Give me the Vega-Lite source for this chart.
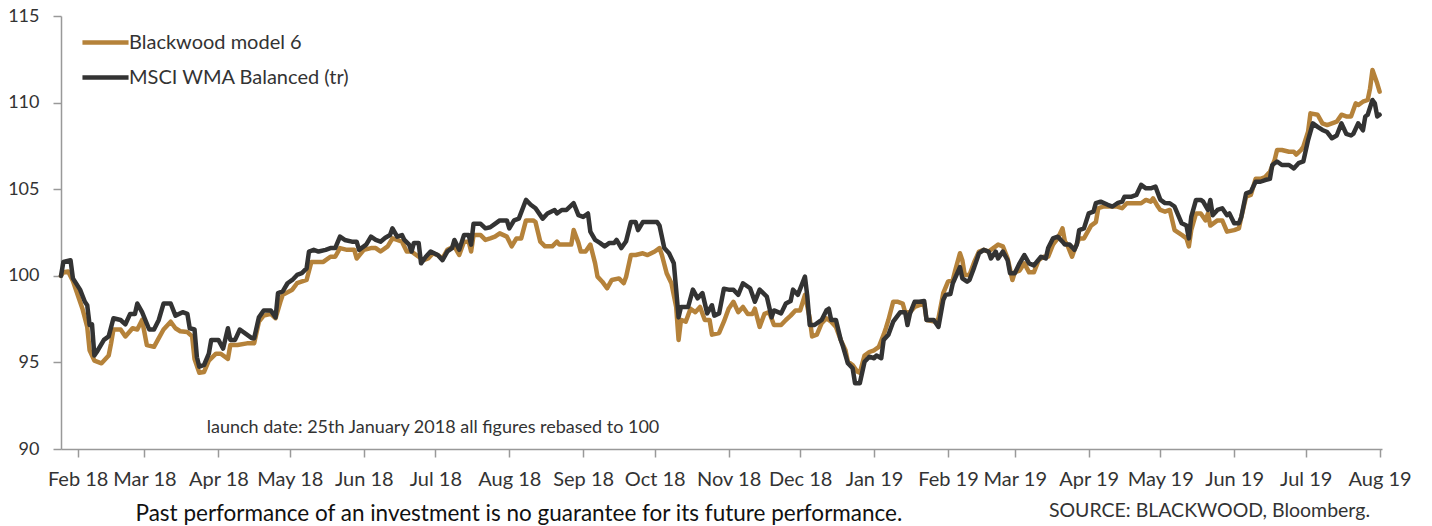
{
  "$schema": "https://vega.github.io/schema/vega-lite/v6.json",
  "width": 1321,
  "height": 433,
  "autosize": {"type": "none"},
  "padding": {"left": 61, "top": 16, "right": 50, "bottom": 77},
  "background": "white",
  "config": {
    "view": {"stroke": null},
    "font": "Lato",
    "axis": {"grid": false, "domainColor": "#999999", "domainWidth": 1.5, "tickColor": "#999999", "tickWidth": 1.5, "tickSize": 8, "labelFont": "Lato", "labelFontSize": 18, "labelColor": "#333333", "labelPadding": 13},
    "title": {"font": "Lato", "fontSize": 19.5, "fontWeight": "normal", "color": "#333333"}
  },
  "title": {"text": "SOURCE: BLACKWOOD, Bloomberg.", "orient": "bottom", "anchor": "end", "frame": "group", "offset": 0, "dy": -23, "dx": -12},
  "datasets": {
    "series": [
      {"d":"2018-01-25","s":"Blackwood model 6","v":100.0},
      {"d":"2018-01-26","s":"Blackwood model 6","v":100.2},
      {"d":"2018-01-28","s":"Blackwood model 6","v":100.25},
      {"d":"2018-01-30","s":"Blackwood model 6","v":99.7},
      {"d":"2018-02-03","s":"Blackwood model 6","v":98.1},
      {"d":"2018-02-05","s":"Blackwood model 6","v":97.05},
      {"d":"2018-02-06","s":"Blackwood model 6","v":95.7},
      {"d":"2018-02-08","s":"Blackwood model 6","v":95.1},
      {"d":"2018-02-11","s":"Blackwood model 6","v":94.95},
      {"d":"2018-02-14","s":"Blackwood model 6","v":95.4},
      {"d":"2018-02-15","s":"Blackwood model 6","v":96.1},
      {"d":"2018-02-16","s":"Blackwood model 6","v":96.9},
      {"d":"2018-02-19","s":"Blackwood model 6","v":96.9},
      {"d":"2018-02-21","s":"Blackwood model 6","v":96.5},
      {"d":"2018-02-24","s":"Blackwood model 6","v":96.97},
      {"d":"2018-02-26","s":"Blackwood model 6","v":96.9},
      {"d":"2018-02-28","s":"Blackwood model 6","v":97.45},
      {"d":"2018-03-02","s":"Blackwood model 6","v":96.0},
      {"d":"2018-03-05","s":"Blackwood model 6","v":95.9},
      {"d":"2018-03-07","s":"Blackwood model 6","v":96.4},
      {"d":"2018-03-09","s":"Blackwood model 6","v":96.9},
      {"d":"2018-03-12","s":"Blackwood model 6","v":97.35},
      {"d":"2018-03-14","s":"Blackwood model 6","v":96.97},
      {"d":"2018-03-16","s":"Blackwood model 6","v":96.8},
      {"d":"2018-03-19","s":"Blackwood model 6","v":96.75},
      {"d":"2018-03-21","s":"Blackwood model 6","v":96.5},
      {"d":"2018-03-22","s":"Blackwood model 6","v":95.2},
      {"d":"2018-03-24","s":"Blackwood model 6","v":94.4},
      {"d":"2018-03-26","s":"Blackwood model 6","v":94.45},
      {"d":"2018-03-28","s":"Blackwood model 6","v":95.1},
      {"d":"2018-03-31","s":"Blackwood model 6","v":95.5},
      {"d":"2018-04-02","s":"Blackwood model 6","v":95.5},
      {"d":"2018-04-05","s":"Blackwood model 6","v":95.2},
      {"d":"2018-04-06","s":"Blackwood model 6","v":96.0},
      {"d":"2018-04-09","s":"Blackwood model 6","v":96.0},
      {"d":"2018-04-13","s":"Blackwood model 6","v":96.1},
      {"d":"2018-04-16","s":"Blackwood model 6","v":96.1},
      {"d":"2018-04-18","s":"Blackwood model 6","v":97.35},
      {"d":"2018-04-20","s":"Blackwood model 6","v":97.7},
      {"d":"2018-04-23","s":"Blackwood model 6","v":97.8},
      {"d":"2018-04-25","s":"Blackwood model 6","v":97.55},
      {"d":"2018-04-27","s":"Blackwood model 6","v":98.5},
      {"d":"2018-04-28","s":"Blackwood model 6","v":98.9},
      {"d":"2018-05-02","s":"Blackwood model 6","v":99.2},
      {"d":"2018-05-04","s":"Blackwood model 6","v":99.57},
      {"d":"2018-05-08","s":"Blackwood model 6","v":99.76},
      {"d":"2018-05-10","s":"Blackwood model 6","v":100.8},
      {"d":"2018-05-13","s":"Blackwood model 6","v":100.8},
      {"d":"2018-05-15","s":"Blackwood model 6","v":100.8},
      {"d":"2018-05-18","s":"Blackwood model 6","v":101.1},
      {"d":"2018-05-20","s":"Blackwood model 6","v":101.1},
      {"d":"2018-05-22","s":"Blackwood model 6","v":101.6},
      {"d":"2018-05-25","s":"Blackwood model 6","v":101.5},
      {"d":"2018-05-28","s":"Blackwood model 6","v":101.5},
      {"d":"2018-05-29","s":"Blackwood model 6","v":101.0},
      {"d":"2018-06-01","s":"Blackwood model 6","v":101.5},
      {"d":"2018-06-04","s":"Blackwood model 6","v":101.6},
      {"d":"2018-06-06","s":"Blackwood model 6","v":101.6},
      {"d":"2018-06-08","s":"Blackwood model 6","v":101.4},
      {"d":"2018-06-11","s":"Blackwood model 6","v":101.7},
      {"d":"2018-06-13","s":"Blackwood model 6","v":102.16},
      {"d":"2018-06-15","s":"Blackwood model 6","v":102.07},
      {"d":"2018-06-17","s":"Blackwood model 6","v":101.97},
      {"d":"2018-06-19","s":"Blackwood model 6","v":101.4},
      {"d":"2018-06-21","s":"Blackwood model 6","v":101.4},
      {"d":"2018-06-24","s":"Blackwood model 6","v":101.1},
      {"d":"2018-06-26","s":"Blackwood model 6","v":100.9},
      {"d":"2018-06-28","s":"Blackwood model 6","v":101.0},
      {"d":"2018-06-30","s":"Blackwood model 6","v":101.3},
      {"d":"2018-07-02","s":"Blackwood model 6","v":101.2},
      {"d":"2018-07-04","s":"Blackwood model 6","v":101.0},
      {"d":"2018-07-06","s":"Blackwood model 6","v":101.5},
      {"d":"2018-07-09","s":"Blackwood model 6","v":101.7},
      {"d":"2018-07-11","s":"Blackwood model 6","v":101.2},
      {"d":"2018-07-13","s":"Blackwood model 6","v":101.97},
      {"d":"2018-07-15","s":"Blackwood model 6","v":101.97},
      {"d":"2018-07-16","s":"Blackwood model 6","v":101.4},
      {"d":"2018-07-17","s":"Blackwood model 6","v":102.35},
      {"d":"2018-07-20","s":"Blackwood model 6","v":102.35},
      {"d":"2018-07-22","s":"Blackwood model 6","v":102.07},
      {"d":"2018-07-24","s":"Blackwood model 6","v":102.16},
      {"d":"2018-07-26","s":"Blackwood model 6","v":102.26},
      {"d":"2018-07-28","s":"Blackwood model 6","v":102.45},
      {"d":"2018-07-31","s":"Blackwood model 6","v":102.26},
      {"d":"2018-08-02","s":"Blackwood model 6","v":101.7},
      {"d":"2018-08-04","s":"Blackwood model 6","v":102.16},
      {"d":"2018-08-06","s":"Blackwood model 6","v":102.16},
      {"d":"2018-08-08","s":"Blackwood model 6","v":103.2},
      {"d":"2018-08-11","s":"Blackwood model 6","v":103.2},
      {"d":"2018-08-12","s":"Blackwood model 6","v":103.1},
      {"d":"2018-08-14","s":"Blackwood model 6","v":101.97},
      {"d":"2018-08-16","s":"Blackwood model 6","v":101.7},
      {"d":"2018-08-19","s":"Blackwood model 6","v":101.7},
      {"d":"2018-08-21","s":"Blackwood model 6","v":101.97},
      {"d":"2018-08-22","s":"Blackwood model 6","v":101.8},
      {"d":"2018-08-25","s":"Blackwood model 6","v":101.8},
      {"d":"2018-08-27","s":"Blackwood model 6","v":101.8},
      {"d":"2018-08-28","s":"Blackwood model 6","v":102.64},
      {"d":"2018-08-30","s":"Blackwood model 6","v":101.9},
      {"d":"2018-08-31","s":"Blackwood model 6","v":101.4},
      {"d":"2018-09-02","s":"Blackwood model 6","v":101.4},
      {"d":"2018-09-04","s":"Blackwood model 6","v":101.8},
      {"d":"2018-09-06","s":"Blackwood model 6","v":100.72},
      {"d":"2018-09-07","s":"Blackwood model 6","v":99.95},
      {"d":"2018-09-09","s":"Blackwood model 6","v":99.66},
      {"d":"2018-09-11","s":"Blackwood model 6","v":99.28},
      {"d":"2018-09-13","s":"Blackwood model 6","v":99.76},
      {"d":"2018-09-16","s":"Blackwood model 6","v":99.85},
      {"d":"2018-09-18","s":"Blackwood model 6","v":99.57},
      {"d":"2018-09-19","s":"Blackwood model 6","v":99.95},
      {"d":"2018-09-21","s":"Blackwood model 6","v":101.2},
      {"d":"2018-09-23","s":"Blackwood model 6","v":101.2},
      {"d":"2018-09-26","s":"Blackwood model 6","v":101.3},
      {"d":"2018-09-28","s":"Blackwood model 6","v":101.2},
      {"d":"2018-10-01","s":"Blackwood model 6","v":101.4},
      {"d":"2018-10-03","s":"Blackwood model 6","v":101.6},
      {"d":"2018-10-04","s":"Blackwood model 6","v":101.2},
      {"d":"2018-10-06","s":"Blackwood model 6","v":100.15},
      {"d":"2018-10-08","s":"Blackwood model 6","v":99.57},
      {"d":"2018-10-10","s":"Blackwood model 6","v":98.2},
      {"d":"2018-10-11","s":"Blackwood model 6","v":96.3},
      {"d":"2018-10-12","s":"Blackwood model 6","v":97.45},
      {"d":"2018-10-14","s":"Blackwood model 6","v":97.35},
      {"d":"2018-10-16","s":"Blackwood model 6","v":98.1},
      {"d":"2018-10-18","s":"Blackwood model 6","v":97.9},
      {"d":"2018-10-20","s":"Blackwood model 6","v":98.2},
      {"d":"2018-10-22","s":"Blackwood model 6","v":97.45},
      {"d":"2018-10-24","s":"Blackwood model 6","v":97.45},
      {"d":"2018-10-25","s":"Blackwood model 6","v":96.6},
      {"d":"2018-10-28","s":"Blackwood model 6","v":96.7},
      {"d":"2018-10-30","s":"Blackwood model 6","v":97.35},
      {"d":"2018-11-01","s":"Blackwood model 6","v":98.1},
      {"d":"2018-11-03","s":"Blackwood model 6","v":98.5},
      {"d":"2018-11-05","s":"Blackwood model 6","v":97.9},
      {"d":"2018-11-07","s":"Blackwood model 6","v":98.2},
      {"d":"2018-11-09","s":"Blackwood model 6","v":97.8},
      {"d":"2018-11-11","s":"Blackwood model 6","v":97.8},
      {"d":"2018-11-12","s":"Blackwood model 6","v":98.1},
      {"d":"2018-11-14","s":"Blackwood model 6","v":97.05},
      {"d":"2018-11-16","s":"Blackwood model 6","v":97.8},
      {"d":"2018-11-18","s":"Blackwood model 6","v":97.9},
      {"d":"2018-11-20","s":"Blackwood model 6","v":97.16},
      {"d":"2018-11-23","s":"Blackwood model 6","v":97.16},
      {"d":"2018-11-25","s":"Blackwood model 6","v":97.45},
      {"d":"2018-11-27","s":"Blackwood model 6","v":97.7},
      {"d":"2018-11-29","s":"Blackwood model 6","v":98.0},
      {"d":"2018-12-01","s":"Blackwood model 6","v":98.0},
      {"d":"2018-12-03","s":"Blackwood model 6","v":98.9},
      {"d":"2018-12-05","s":"Blackwood model 6","v":97.55},
      {"d":"2018-12-06","s":"Blackwood model 6","v":96.5},
      {"d":"2018-12-08","s":"Blackwood model 6","v":96.6},
      {"d":"2018-12-10","s":"Blackwood model 6","v":97.26},
      {"d":"2018-12-12","s":"Blackwood model 6","v":97.55},
      {"d":"2018-12-14","s":"Blackwood model 6","v":97.35},
      {"d":"2018-12-16","s":"Blackwood model 6","v":97.05},
      {"d":"2018-12-18","s":"Blackwood model 6","v":96.3},
      {"d":"2018-12-20","s":"Blackwood model 6","v":95.7},
      {"d":"2018-12-21","s":"Blackwood model 6","v":95.04},
      {"d":"2018-12-23","s":"Blackwood model 6","v":94.85},
      {"d":"2018-12-25","s":"Blackwood model 6","v":94.46},
      {"d":"2018-12-26","s":"Blackwood model 6","v":94.4},
      {"d":"2018-12-28","s":"Blackwood model 6","v":95.4},
      {"d":"2018-12-30","s":"Blackwood model 6","v":95.6},
      {"d":"2019-01-01","s":"Blackwood model 6","v":95.7},
      {"d":"2019-01-03","s":"Blackwood model 6","v":95.9},
      {"d":"2019-01-05","s":"Blackwood model 6","v":96.6},
      {"d":"2019-01-06","s":"Blackwood model 6","v":97.0},
      {"d":"2019-01-07","s":"Blackwood model 6","v":97.45},
      {"d":"2019-01-09","s":"Blackwood model 6","v":98.5},
      {"d":"2019-01-11","s":"Blackwood model 6","v":98.5},
      {"d":"2019-01-13","s":"Blackwood model 6","v":98.4},
      {"d":"2019-01-14","s":"Blackwood model 6","v":97.9},
      {"d":"2019-01-16","s":"Blackwood model 6","v":97.9},
      {"d":"2019-01-18","s":"Blackwood model 6","v":98.2},
      {"d":"2019-01-20","s":"Blackwood model 6","v":98.3},
      {"d":"2019-01-22","s":"Blackwood model 6","v":98.4},
      {"d":"2019-01-23","s":"Blackwood model 6","v":97.45},
      {"d":"2019-01-27","s":"Blackwood model 6","v":97.35},
      {"d":"2019-01-28","s":"Blackwood model 6","v":97.55},
      {"d":"2019-01-30","s":"Blackwood model 6","v":99.0},
      {"d":"2019-02-01","s":"Blackwood model 6","v":99.66},
      {"d":"2019-02-03","s":"Blackwood model 6","v":99.76},
      {"d":"2019-02-04","s":"Blackwood model 6","v":100.3},
      {"d":"2019-02-06","s":"Blackwood model 6","v":101.3},
      {"d":"2019-02-07","s":"Blackwood model 6","v":100.9},
      {"d":"2019-02-08","s":"Blackwood model 6","v":100.05},
      {"d":"2019-02-10","s":"Blackwood model 6","v":100.05},
      {"d":"2019-02-12","s":"Blackwood model 6","v":100.8},
      {"d":"2019-02-14","s":"Blackwood model 6","v":101.4},
      {"d":"2019-02-16","s":"Blackwood model 6","v":101.5},
      {"d":"2019-02-18","s":"Blackwood model 6","v":101.4},
      {"d":"2019-02-20","s":"Blackwood model 6","v":101.6},
      {"d":"2019-02-22","s":"Blackwood model 6","v":101.8},
      {"d":"2019-02-24","s":"Blackwood model 6","v":101.7},
      {"d":"2019-02-26","s":"Blackwood model 6","v":101.0},
      {"d":"2019-02-28","s":"Blackwood model 6","v":99.76},
      {"d":"2019-03-01","s":"Blackwood model 6","v":100.2},
      {"d":"2019-03-03","s":"Blackwood model 6","v":100.3},
      {"d":"2019-03-05","s":"Blackwood model 6","v":100.72},
      {"d":"2019-03-07","s":"Blackwood model 6","v":100.2},
      {"d":"2019-03-09","s":"Blackwood model 6","v":100.2},
      {"d":"2019-03-11","s":"Blackwood model 6","v":100.9},
      {"d":"2019-03-13","s":"Blackwood model 6","v":101.1},
      {"d":"2019-03-15","s":"Blackwood model 6","v":101.1},
      {"d":"2019-03-17","s":"Blackwood model 6","v":101.8},
      {"d":"2019-03-19","s":"Blackwood model 6","v":102.16},
      {"d":"2019-03-21","s":"Blackwood model 6","v":102.74},
      {"d":"2019-03-22","s":"Blackwood model 6","v":102.0},
      {"d":"2019-03-23","s":"Blackwood model 6","v":101.8},
      {"d":"2019-03-25","s":"Blackwood model 6","v":101.1},
      {"d":"2019-03-26","s":"Blackwood model 6","v":101.5},
      {"d":"2019-03-28","s":"Blackwood model 6","v":102.16},
      {"d":"2019-03-30","s":"Blackwood model 6","v":102.16},
      {"d":"2019-04-02","s":"Blackwood model 6","v":102.9},
      {"d":"2019-04-04","s":"Blackwood model 6","v":103.1},
      {"d":"2019-04-05","s":"Blackwood model 6","v":103.9},
      {"d":"2019-04-07","s":"Blackwood model 6","v":104.0},
      {"d":"2019-04-10","s":"Blackwood model 6","v":104.0},
      {"d":"2019-04-13","s":"Blackwood model 6","v":104.0},
      {"d":"2019-04-15","s":"Blackwood model 6","v":103.9},
      {"d":"2019-04-17","s":"Blackwood model 6","v":104.19},
      {"d":"2019-04-20","s":"Blackwood model 6","v":104.19},
      {"d":"2019-04-23","s":"Blackwood model 6","v":104.19},
      {"d":"2019-04-25","s":"Blackwood model 6","v":104.38},
      {"d":"2019-04-27","s":"Blackwood model 6","v":104.28},
      {"d":"2019-04-28","s":"Blackwood model 6","v":104.47},
      {"d":"2019-04-30","s":"Blackwood model 6","v":104.0},
      {"d":"2019-05-01","s":"Blackwood model 6","v":103.8},
      {"d":"2019-05-03","s":"Blackwood model 6","v":103.7},
      {"d":"2019-05-05","s":"Blackwood model 6","v":103.8},
      {"d":"2019-05-07","s":"Blackwood model 6","v":102.64},
      {"d":"2019-05-10","s":"Blackwood model 6","v":102.36},
      {"d":"2019-05-12","s":"Blackwood model 6","v":102.16},
      {"d":"2019-05-13","s":"Blackwood model 6","v":101.7},
      {"d":"2019-05-14","s":"Blackwood model 6","v":102.64},
      {"d":"2019-05-16","s":"Blackwood model 6","v":103.6},
      {"d":"2019-05-18","s":"Blackwood model 6","v":103.6},
      {"d":"2019-05-20","s":"Blackwood model 6","v":103.2},
      {"d":"2019-05-21","s":"Blackwood model 6","v":103.6},
      {"d":"2019-05-22","s":"Blackwood model 6","v":102.9},
      {"d":"2019-05-25","s":"Blackwood model 6","v":103.2},
      {"d":"2019-05-27","s":"Blackwood model 6","v":103.2},
      {"d":"2019-05-29","s":"Blackwood model 6","v":102.55},
      {"d":"2019-06-01","s":"Blackwood model 6","v":102.64},
      {"d":"2019-06-03","s":"Blackwood model 6","v":102.74},
      {"d":"2019-06-04","s":"Blackwood model 6","v":103.4},
      {"d":"2019-06-06","s":"Blackwood model 6","v":104.57},
      {"d":"2019-06-08","s":"Blackwood model 6","v":104.67},
      {"d":"2019-06-10","s":"Blackwood model 6","v":105.6},
      {"d":"2019-06-12","s":"Blackwood model 6","v":105.6},
      {"d":"2019-06-14","s":"Blackwood model 6","v":105.7},
      {"d":"2019-06-16","s":"Blackwood model 6","v":106.0},
      {"d":"2019-06-18","s":"Blackwood model 6","v":106.7},
      {"d":"2019-06-19","s":"Blackwood model 6","v":107.26},
      {"d":"2019-06-21","s":"Blackwood model 6","v":107.26},
      {"d":"2019-06-24","s":"Blackwood model 6","v":107.16},
      {"d":"2019-06-26","s":"Blackwood model 6","v":107.16},
      {"d":"2019-06-27","s":"Blackwood model 6","v":107.0},
      {"d":"2019-06-29","s":"Blackwood model 6","v":107.26},
      {"d":"2019-06-30","s":"Blackwood model 6","v":107.45},
      {"d":"2019-07-02","s":"Blackwood model 6","v":108.32},
      {"d":"2019-07-03","s":"Blackwood model 6","v":109.38},
      {"d":"2019-07-06","s":"Blackwood model 6","v":109.3},
      {"d":"2019-07-08","s":"Blackwood model 6","v":108.8},
      {"d":"2019-07-10","s":"Blackwood model 6","v":108.7},
      {"d":"2019-07-12","s":"Blackwood model 6","v":108.8},
      {"d":"2019-07-14","s":"Blackwood model 6","v":108.9},
      {"d":"2019-07-16","s":"Blackwood model 6","v":109.3},
      {"d":"2019-07-18","s":"Blackwood model 6","v":109.2},
      {"d":"2019-07-20","s":"Blackwood model 6","v":109.2},
      {"d":"2019-07-22","s":"Blackwood model 6","v":109.96},
      {"d":"2019-07-23","s":"Blackwood model 6","v":109.86},
      {"d":"2019-07-25","s":"Blackwood model 6","v":110.05},
      {"d":"2019-07-27","s":"Blackwood model 6","v":110.15},
      {"d":"2019-07-28","s":"Blackwood model 6","v":110.82},
      {"d":"2019-07-29","s":"Blackwood model 6","v":111.88},
      {"d":"2019-07-31","s":"Blackwood model 6","v":111.1},
      {"d":"2019-08-01","s":"Blackwood model 6","v":110.63},

      {"d":"2018-01-25","s":"MSCI WMA Balanced (tr)","v":100.0},
      {"d":"2018-01-26","s":"MSCI WMA Balanced (tr)","v":100.8},
      {"d":"2018-01-29","s":"MSCI WMA Balanced (tr)","v":100.9},
      {"d":"2018-01-30","s":"MSCI WMA Balanced (tr)","v":99.85},
      {"d":"2018-02-02","s":"MSCI WMA Balanced (tr)","v":99.2},
      {"d":"2018-02-04","s":"MSCI WMA Balanced (tr)","v":98.5},
      {"d":"2018-02-05","s":"MSCI WMA Balanced (tr)","v":98.3},
      {"d":"2018-02-06","s":"MSCI WMA Balanced (tr)","v":97.16},
      {"d":"2018-02-07","s":"MSCI WMA Balanced (tr)","v":97.2},
      {"d":"2018-02-08","s":"MSCI WMA Balanced (tr)","v":95.4},
      {"d":"2018-02-09","s":"MSCI WMA Balanced (tr)","v":95.6},
      {"d":"2018-02-12","s":"MSCI WMA Balanced (tr)","v":96.3},
      {"d":"2018-02-14","s":"MSCI WMA Balanced (tr)","v":96.5},
      {"d":"2018-02-16","s":"MSCI WMA Balanced (tr)","v":97.55},
      {"d":"2018-02-19","s":"MSCI WMA Balanced (tr)","v":97.45},
      {"d":"2018-02-21","s":"MSCI WMA Balanced (tr)","v":97.2},
      {"d":"2018-02-23","s":"MSCI WMA Balanced (tr)","v":97.8},
      {"d":"2018-02-25","s":"MSCI WMA Balanced (tr)","v":97.8},
      {"d":"2018-02-26","s":"MSCI WMA Balanced (tr)","v":98.4},
      {"d":"2018-02-28","s":"MSCI WMA Balanced (tr)","v":97.9},
      {"d":"2018-03-03","s":"MSCI WMA Balanced (tr)","v":96.9},
      {"d":"2018-03-05","s":"MSCI WMA Balanced (tr)","v":96.9},
      {"d":"2018-03-07","s":"MSCI WMA Balanced (tr)","v":97.45},
      {"d":"2018-03-09","s":"MSCI WMA Balanced (tr)","v":98.4},
      {"d":"2018-03-12","s":"MSCI WMA Balanced (tr)","v":98.4},
      {"d":"2018-03-14","s":"MSCI WMA Balanced (tr)","v":97.7},
      {"d":"2018-03-17","s":"MSCI WMA Balanced (tr)","v":97.9},
      {"d":"2018-03-19","s":"MSCI WMA Balanced (tr)","v":97.8},
      {"d":"2018-03-20","s":"MSCI WMA Balanced (tr)","v":96.97},
      {"d":"2018-03-22","s":"MSCI WMA Balanced (tr)","v":96.9},
      {"d":"2018-03-23","s":"MSCI WMA Balanced (tr)","v":95.3},
      {"d":"2018-03-24","s":"MSCI WMA Balanced (tr)","v":94.75},
      {"d":"2018-03-26","s":"MSCI WMA Balanced (tr)","v":94.85},
      {"d":"2018-03-28","s":"MSCI WMA Balanced (tr)","v":95.5},
      {"d":"2018-03-29","s":"MSCI WMA Balanced (tr)","v":96.3},
      {"d":"2018-04-01","s":"MSCI WMA Balanced (tr)","v":96.3},
      {"d":"2018-04-03","s":"MSCI WMA Balanced (tr)","v":95.8},
      {"d":"2018-04-05","s":"MSCI WMA Balanced (tr)","v":96.97},
      {"d":"2018-04-06","s":"MSCI WMA Balanced (tr)","v":96.3},
      {"d":"2018-04-08","s":"MSCI WMA Balanced (tr)","v":96.3},
      {"d":"2018-04-10","s":"MSCI WMA Balanced (tr)","v":96.9},
      {"d":"2018-04-15","s":"MSCI WMA Balanced (tr)","v":96.4},
      {"d":"2018-04-16","s":"MSCI WMA Balanced (tr)","v":96.4},
      {"d":"2018-04-18","s":"MSCI WMA Balanced (tr)","v":97.6},
      {"d":"2018-04-20","s":"MSCI WMA Balanced (tr)","v":98.0},
      {"d":"2018-04-23","s":"MSCI WMA Balanced (tr)","v":98.0},
      {"d":"2018-04-25","s":"MSCI WMA Balanced (tr)","v":97.6},
      {"d":"2018-04-26","s":"MSCI WMA Balanced (tr)","v":99.0},
      {"d":"2018-04-28","s":"MSCI WMA Balanced (tr)","v":99.1},
      {"d":"2018-04-30","s":"MSCI WMA Balanced (tr)","v":99.57},
      {"d":"2018-05-02","s":"MSCI WMA Balanced (tr)","v":99.76},
      {"d":"2018-05-04","s":"MSCI WMA Balanced (tr)","v":100.05},
      {"d":"2018-05-06","s":"MSCI WMA Balanced (tr)","v":100.15},
      {"d":"2018-05-08","s":"MSCI WMA Balanced (tr)","v":100.43},
      {"d":"2018-05-09","s":"MSCI WMA Balanced (tr)","v":101.4},
      {"d":"2018-05-11","s":"MSCI WMA Balanced (tr)","v":101.5},
      {"d":"2018-05-13","s":"MSCI WMA Balanced (tr)","v":101.4},
      {"d":"2018-05-16","s":"MSCI WMA Balanced (tr)","v":101.5},
      {"d":"2018-05-18","s":"MSCI WMA Balanced (tr)","v":101.6},
      {"d":"2018-05-20","s":"MSCI WMA Balanced (tr)","v":101.6},
      {"d":"2018-05-22","s":"MSCI WMA Balanced (tr)","v":102.26},
      {"d":"2018-05-24","s":"MSCI WMA Balanced (tr)","v":102.07},
      {"d":"2018-05-27","s":"MSCI WMA Balanced (tr)","v":101.97},
      {"d":"2018-05-29","s":"MSCI WMA Balanced (tr)","v":101.97},
      {"d":"2018-05-30","s":"MSCI WMA Balanced (tr)","v":101.5},
      {"d":"2018-06-02","s":"MSCI WMA Balanced (tr)","v":101.8},
      {"d":"2018-06-04","s":"MSCI WMA Balanced (tr)","v":102.26},
      {"d":"2018-06-06","s":"MSCI WMA Balanced (tr)","v":102.07},
      {"d":"2018-06-08","s":"MSCI WMA Balanced (tr)","v":101.97},
      {"d":"2018-06-10","s":"MSCI WMA Balanced (tr)","v":102.2},
      {"d":"2018-06-12","s":"MSCI WMA Balanced (tr)","v":102.35},
      {"d":"2018-06-13","s":"MSCI WMA Balanced (tr)","v":102.74},
      {"d":"2018-06-15","s":"MSCI WMA Balanced (tr)","v":102.26},
      {"d":"2018-06-17","s":"MSCI WMA Balanced (tr)","v":102.35},
      {"d":"2018-06-18","s":"MSCI WMA Balanced (tr)","v":102.07},
      {"d":"2018-06-20","s":"MSCI WMA Balanced (tr)","v":101.8},
      {"d":"2018-06-21","s":"MSCI WMA Balanced (tr)","v":101.4},
      {"d":"2018-06-22","s":"MSCI WMA Balanced (tr)","v":101.9},
      {"d":"2018-06-24","s":"MSCI WMA Balanced (tr)","v":101.9},
      {"d":"2018-06-25","s":"MSCI WMA Balanced (tr)","v":100.72},
      {"d":"2018-06-27","s":"MSCI WMA Balanced (tr)","v":101.1},
      {"d":"2018-06-29","s":"MSCI WMA Balanced (tr)","v":101.4},
      {"d":"2018-07-02","s":"MSCI WMA Balanced (tr)","v":101.2},
      {"d":"2018-07-04","s":"MSCI WMA Balanced (tr)","v":100.9},
      {"d":"2018-07-06","s":"MSCI WMA Balanced (tr)","v":101.4},
      {"d":"2018-07-08","s":"MSCI WMA Balanced (tr)","v":101.6},
      {"d":"2018-07-09","s":"MSCI WMA Balanced (tr)","v":102.07},
      {"d":"2018-07-11","s":"MSCI WMA Balanced (tr)","v":101.5},
      {"d":"2018-07-13","s":"MSCI WMA Balanced (tr)","v":102.35},
      {"d":"2018-07-15","s":"MSCI WMA Balanced (tr)","v":102.35},
      {"d":"2018-07-16","s":"MSCI WMA Balanced (tr)","v":101.8},
      {"d":"2018-07-17","s":"MSCI WMA Balanced (tr)","v":103.0},
      {"d":"2018-07-20","s":"MSCI WMA Balanced (tr)","v":103.0},
      {"d":"2018-07-22","s":"MSCI WMA Balanced (tr)","v":102.74},
      {"d":"2018-07-24","s":"MSCI WMA Balanced (tr)","v":102.8},
      {"d":"2018-07-26","s":"MSCI WMA Balanced (tr)","v":103.0},
      {"d":"2018-07-28","s":"MSCI WMA Balanced (tr)","v":103.2},
      {"d":"2018-07-31","s":"MSCI WMA Balanced (tr)","v":103.2},
      {"d":"2018-08-01","s":"MSCI WMA Balanced (tr)","v":102.74},
      {"d":"2018-08-03","s":"MSCI WMA Balanced (tr)","v":103.2},
      {"d":"2018-08-05","s":"MSCI WMA Balanced (tr)","v":103.3},
      {"d":"2018-08-08","s":"MSCI WMA Balanced (tr)","v":104.38},
      {"d":"2018-08-10","s":"MSCI WMA Balanced (tr)","v":104.1},
      {"d":"2018-08-12","s":"MSCI WMA Balanced (tr)","v":103.9},
      {"d":"2018-08-15","s":"MSCI WMA Balanced (tr)","v":103.3},
      {"d":"2018-08-17","s":"MSCI WMA Balanced (tr)","v":103.6},
      {"d":"2018-08-20","s":"MSCI WMA Balanced (tr)","v":103.8},
      {"d":"2018-08-21","s":"MSCI WMA Balanced (tr)","v":103.6},
      {"d":"2018-08-23","s":"MSCI WMA Balanced (tr)","v":103.8},
      {"d":"2018-08-25","s":"MSCI WMA Balanced (tr)","v":103.8},
      {"d":"2018-08-28","s":"MSCI WMA Balanced (tr)","v":104.19},
      {"d":"2018-08-30","s":"MSCI WMA Balanced (tr)","v":103.5},
      {"d":"2018-09-01","s":"MSCI WMA Balanced (tr)","v":103.4},
      {"d":"2018-09-03","s":"MSCI WMA Balanced (tr)","v":103.6},
      {"d":"2018-09-04","s":"MSCI WMA Balanced (tr)","v":102.55},
      {"d":"2018-09-06","s":"MSCI WMA Balanced (tr)","v":102.07},
      {"d":"2018-09-08","s":"MSCI WMA Balanced (tr)","v":101.9},
      {"d":"2018-09-10","s":"MSCI WMA Balanced (tr)","v":101.7},
      {"d":"2018-09-12","s":"MSCI WMA Balanced (tr)","v":101.9},
      {"d":"2018-09-14","s":"MSCI WMA Balanced (tr)","v":101.9},
      {"d":"2018-09-15","s":"MSCI WMA Balanced (tr)","v":102.07},
      {"d":"2018-09-17","s":"MSCI WMA Balanced (tr)","v":101.6},
      {"d":"2018-09-19","s":"MSCI WMA Balanced (tr)","v":102.0},
      {"d":"2018-09-21","s":"MSCI WMA Balanced (tr)","v":103.1},
      {"d":"2018-09-23","s":"MSCI WMA Balanced (tr)","v":103.1},
      {"d":"2018-09-24","s":"MSCI WMA Balanced (tr)","v":102.64},
      {"d":"2018-09-26","s":"MSCI WMA Balanced (tr)","v":103.1},
      {"d":"2018-09-29","s":"MSCI WMA Balanced (tr)","v":103.1},
      {"d":"2018-10-02","s":"MSCI WMA Balanced (tr)","v":103.1},
      {"d":"2018-10-03","s":"MSCI WMA Balanced (tr)","v":102.9},
      {"d":"2018-10-05","s":"MSCI WMA Balanced (tr)","v":101.6},
      {"d":"2018-10-07","s":"MSCI WMA Balanced (tr)","v":101.3},
      {"d":"2018-10-09","s":"MSCI WMA Balanced (tr)","v":100.72},
      {"d":"2018-10-10","s":"MSCI WMA Balanced (tr)","v":99.2},
      {"d":"2018-10-11","s":"MSCI WMA Balanced (tr)","v":97.6},
      {"d":"2018-10-12","s":"MSCI WMA Balanced (tr)","v":98.2},
      {"d":"2018-10-15","s":"MSCI WMA Balanced (tr)","v":98.2},
      {"d":"2018-10-17","s":"MSCI WMA Balanced (tr)","v":99.2},
      {"d":"2018-10-19","s":"MSCI WMA Balanced (tr)","v":98.7},
      {"d":"2018-10-21","s":"MSCI WMA Balanced (tr)","v":99.0},
      {"d":"2018-10-23","s":"MSCI WMA Balanced (tr)","v":97.83},
      {"d":"2018-10-25","s":"MSCI WMA Balanced (tr)","v":98.3},
      {"d":"2018-10-26","s":"MSCI WMA Balanced (tr)","v":97.7},
      {"d":"2018-10-28","s":"MSCI WMA Balanced (tr)","v":97.83},
      {"d":"2018-10-30","s":"MSCI WMA Balanced (tr)","v":99.25},
      {"d":"2018-11-01","s":"MSCI WMA Balanced (tr)","v":99.2},
      {"d":"2018-11-03","s":"MSCI WMA Balanced (tr)","v":99.2},
      {"d":"2018-11-05","s":"MSCI WMA Balanced (tr)","v":98.9},
      {"d":"2018-11-07","s":"MSCI WMA Balanced (tr)","v":99.57},
      {"d":"2018-11-10","s":"MSCI WMA Balanced (tr)","v":99.28},
      {"d":"2018-11-12","s":"MSCI WMA Balanced (tr)","v":98.5},
      {"d":"2018-11-14","s":"MSCI WMA Balanced (tr)","v":99.2},
      {"d":"2018-11-17","s":"MSCI WMA Balanced (tr)","v":98.8},
      {"d":"2018-11-19","s":"MSCI WMA Balanced (tr)","v":97.6},
      {"d":"2018-11-20","s":"MSCI WMA Balanced (tr)","v":98.0},
      {"d":"2018-11-23","s":"MSCI WMA Balanced (tr)","v":97.83},
      {"d":"2018-11-25","s":"MSCI WMA Balanced (tr)","v":98.4},
      {"d":"2018-11-27","s":"MSCI WMA Balanced (tr)","v":98.55},
      {"d":"2018-11-28","s":"MSCI WMA Balanced (tr)","v":99.2},
      {"d":"2018-11-30","s":"MSCI WMA Balanced (tr)","v":98.9},
      {"d":"2018-12-03","s":"MSCI WMA Balanced (tr)","v":99.95},
      {"d":"2018-12-04","s":"MSCI WMA Balanced (tr)","v":98.8},
      {"d":"2018-12-05","s":"MSCI WMA Balanced (tr)","v":97.16},
      {"d":"2018-12-07","s":"MSCI WMA Balanced (tr)","v":97.16},
      {"d":"2018-12-10","s":"MSCI WMA Balanced (tr)","v":97.45},
      {"d":"2018-12-12","s":"MSCI WMA Balanced (tr)","v":98.0},
      {"d":"2018-12-13","s":"MSCI WMA Balanced (tr)","v":98.1},
      {"d":"2018-12-14","s":"MSCI WMA Balanced (tr)","v":97.45},
      {"d":"2018-12-16","s":"MSCI WMA Balanced (tr)","v":97.45},
      {"d":"2018-12-18","s":"MSCI WMA Balanced (tr)","v":96.3},
      {"d":"2018-12-19","s":"MSCI WMA Balanced (tr)","v":95.9},
      {"d":"2018-12-21","s":"MSCI WMA Balanced (tr)","v":94.95},
      {"d":"2018-12-23","s":"MSCI WMA Balanced (tr)","v":94.66},
      {"d":"2018-12-24","s":"MSCI WMA Balanced (tr)","v":93.8},
      {"d":"2018-12-26","s":"MSCI WMA Balanced (tr)","v":93.8},
      {"d":"2018-12-28","s":"MSCI WMA Balanced (tr)","v":95.04},
      {"d":"2018-12-30","s":"MSCI WMA Balanced (tr)","v":95.33},
      {"d":"2019-01-01","s":"MSCI WMA Balanced (tr)","v":95.24},
      {"d":"2019-01-02","s":"MSCI WMA Balanced (tr)","v":95.4},
      {"d":"2019-01-04","s":"MSCI WMA Balanced (tr)","v":95.24},
      {"d":"2019-01-05","s":"MSCI WMA Balanced (tr)","v":96.3},
      {"d":"2019-01-07","s":"MSCI WMA Balanced (tr)","v":96.6},
      {"d":"2019-01-09","s":"MSCI WMA Balanced (tr)","v":97.35},
      {"d":"2019-01-12","s":"MSCI WMA Balanced (tr)","v":97.9},
      {"d":"2019-01-14","s":"MSCI WMA Balanced (tr)","v":97.9},
      {"d":"2019-01-15","s":"MSCI WMA Balanced (tr)","v":97.16},
      {"d":"2019-01-16","s":"MSCI WMA Balanced (tr)","v":97.8},
      {"d":"2019-01-18","s":"MSCI WMA Balanced (tr)","v":98.5},
      {"d":"2019-01-20","s":"MSCI WMA Balanced (tr)","v":98.5},
      {"d":"2019-01-22","s":"MSCI WMA Balanced (tr)","v":98.55},
      {"d":"2019-01-23","s":"MSCI WMA Balanced (tr)","v":97.45},
      {"d":"2019-01-26","s":"MSCI WMA Balanced (tr)","v":97.45},
      {"d":"2019-01-28","s":"MSCI WMA Balanced (tr)","v":97.05},
      {"d":"2019-01-30","s":"MSCI WMA Balanced (tr)","v":98.6},
      {"d":"2019-01-31","s":"MSCI WMA Balanced (tr)","v":98.9},
      {"d":"2019-02-02","s":"MSCI WMA Balanced (tr)","v":98.95},
      {"d":"2019-02-03","s":"MSCI WMA Balanced (tr)","v":99.57},
      {"d":"2019-02-06","s":"MSCI WMA Balanced (tr)","v":100.5},
      {"d":"2019-02-07","s":"MSCI WMA Balanced (tr)","v":99.85},
      {"d":"2019-02-09","s":"MSCI WMA Balanced (tr)","v":99.66},
      {"d":"2019-02-10","s":"MSCI WMA Balanced (tr)","v":99.76},
      {"d":"2019-02-12","s":"MSCI WMA Balanced (tr)","v":100.5},
      {"d":"2019-02-14","s":"MSCI WMA Balanced (tr)","v":101.3},
      {"d":"2019-02-16","s":"MSCI WMA Balanced (tr)","v":101.5},
      {"d":"2019-02-18","s":"MSCI WMA Balanced (tr)","v":101.4},
      {"d":"2019-02-19","s":"MSCI WMA Balanced (tr)","v":101.0},
      {"d":"2019-02-21","s":"MSCI WMA Balanced (tr)","v":101.4},
      {"d":"2019-02-22","s":"MSCI WMA Balanced (tr)","v":101.0},
      {"d":"2019-02-24","s":"MSCI WMA Balanced (tr)","v":101.4},
      {"d":"2019-02-26","s":"MSCI WMA Balanced (tr)","v":100.9},
      {"d":"2019-02-27","s":"MSCI WMA Balanced (tr)","v":100.15},
      {"d":"2019-03-01","s":"MSCI WMA Balanced (tr)","v":100.15},
      {"d":"2019-03-03","s":"MSCI WMA Balanced (tr)","v":100.72},
      {"d":"2019-03-05","s":"MSCI WMA Balanced (tr)","v":101.2},
      {"d":"2019-03-07","s":"MSCI WMA Balanced (tr)","v":100.72},
      {"d":"2019-03-09","s":"MSCI WMA Balanced (tr)","v":100.6},
      {"d":"2019-03-12","s":"MSCI WMA Balanced (tr)","v":101.1},
      {"d":"2019-03-14","s":"MSCI WMA Balanced (tr)","v":101.0},
      {"d":"2019-03-15","s":"MSCI WMA Balanced (tr)","v":101.6},
      {"d":"2019-03-17","s":"MSCI WMA Balanced (tr)","v":102.16},
      {"d":"2019-03-19","s":"MSCI WMA Balanced (tr)","v":102.26},
      {"d":"2019-03-21","s":"MSCI WMA Balanced (tr)","v":101.97},
      {"d":"2019-03-22","s":"MSCI WMA Balanced (tr)","v":101.8},
      {"d":"2019-03-24","s":"MSCI WMA Balanced (tr)","v":101.8},
      {"d":"2019-03-26","s":"MSCI WMA Balanced (tr)","v":101.5},
      {"d":"2019-03-27","s":"MSCI WMA Balanced (tr)","v":101.8},
      {"d":"2019-03-28","s":"MSCI WMA Balanced (tr)","v":102.64},
      {"d":"2019-03-30","s":"MSCI WMA Balanced (tr)","v":102.74},
      {"d":"2019-04-01","s":"MSCI WMA Balanced (tr)","v":103.6},
      {"d":"2019-04-03","s":"MSCI WMA Balanced (tr)","v":103.7},
      {"d":"2019-04-04","s":"MSCI WMA Balanced (tr)","v":104.19},
      {"d":"2019-04-06","s":"MSCI WMA Balanced (tr)","v":104.28},
      {"d":"2019-04-09","s":"MSCI WMA Balanced (tr)","v":104.1},
      {"d":"2019-04-11","s":"MSCI WMA Balanced (tr)","v":104.0},
      {"d":"2019-04-13","s":"MSCI WMA Balanced (tr)","v":104.19},
      {"d":"2019-04-15","s":"MSCI WMA Balanced (tr)","v":104.28},
      {"d":"2019-04-16","s":"MSCI WMA Balanced (tr)","v":104.57},
      {"d":"2019-04-19","s":"MSCI WMA Balanced (tr)","v":104.57},
      {"d":"2019-04-21","s":"MSCI WMA Balanced (tr)","v":104.67},
      {"d":"2019-04-23","s":"MSCI WMA Balanced (tr)","v":105.25},
      {"d":"2019-04-25","s":"MSCI WMA Balanced (tr)","v":105.05},
      {"d":"2019-04-27","s":"MSCI WMA Balanced (tr)","v":105.05},
      {"d":"2019-04-29","s":"MSCI WMA Balanced (tr)","v":105.15},
      {"d":"2019-05-01","s":"MSCI WMA Balanced (tr)","v":104.4},
      {"d":"2019-05-03","s":"MSCI WMA Balanced (tr)","v":104.2},
      {"d":"2019-05-05","s":"MSCI WMA Balanced (tr)","v":104.19},
      {"d":"2019-05-07","s":"MSCI WMA Balanced (tr)","v":104.0},
      {"d":"2019-05-10","s":"MSCI WMA Balanced (tr)","v":103.03},
      {"d":"2019-05-12","s":"MSCI WMA Balanced (tr)","v":102.9},
      {"d":"2019-05-13","s":"MSCI WMA Balanced (tr)","v":102.16},
      {"d":"2019-05-14","s":"MSCI WMA Balanced (tr)","v":103.4},
      {"d":"2019-05-16","s":"MSCI WMA Balanced (tr)","v":104.38},
      {"d":"2019-05-18","s":"MSCI WMA Balanced (tr)","v":104.38},
      {"d":"2019-05-19","s":"MSCI WMA Balanced (tr)","v":104.28},
      {"d":"2019-05-21","s":"MSCI WMA Balanced (tr)","v":103.8},
      {"d":"2019-05-22","s":"MSCI WMA Balanced (tr)","v":104.38},
      {"d":"2019-05-23","s":"MSCI WMA Balanced (tr)","v":103.5},
      {"d":"2019-05-25","s":"MSCI WMA Balanced (tr)","v":103.8},
      {"d":"2019-05-27","s":"MSCI WMA Balanced (tr)","v":103.9},
      {"d":"2019-05-29","s":"MSCI WMA Balanced (tr)","v":103.5},
      {"d":"2019-05-30","s":"MSCI WMA Balanced (tr)","v":103.6},
      {"d":"2019-06-01","s":"MSCI WMA Balanced (tr)","v":103.03},
      {"d":"2019-06-03","s":"MSCI WMA Balanced (tr)","v":103.03},
      {"d":"2019-06-04","s":"MSCI WMA Balanced (tr)","v":103.4},
      {"d":"2019-06-06","s":"MSCI WMA Balanced (tr)","v":104.76},
      {"d":"2019-06-08","s":"MSCI WMA Balanced (tr)","v":104.86},
      {"d":"2019-06-10","s":"MSCI WMA Balanced (tr)","v":105.43},
      {"d":"2019-06-12","s":"MSCI WMA Balanced (tr)","v":105.43},
      {"d":"2019-06-14","s":"MSCI WMA Balanced (tr)","v":105.53},
      {"d":"2019-06-16","s":"MSCI WMA Balanced (tr)","v":105.6},
      {"d":"2019-06-17","s":"MSCI WMA Balanced (tr)","v":106.4},
      {"d":"2019-06-19","s":"MSCI WMA Balanced (tr)","v":106.6},
      {"d":"2019-06-21","s":"MSCI WMA Balanced (tr)","v":106.4},
      {"d":"2019-06-24","s":"MSCI WMA Balanced (tr)","v":106.4},
      {"d":"2019-06-26","s":"MSCI WMA Balanced (tr)","v":106.2},
      {"d":"2019-06-28","s":"MSCI WMA Balanced (tr)","v":106.5},
      {"d":"2019-06-30","s":"MSCI WMA Balanced (tr)","v":106.6},
      {"d":"2019-07-02","s":"MSCI WMA Balanced (tr)","v":107.84},
      {"d":"2019-07-04","s":"MSCI WMA Balanced (tr)","v":108.8},
      {"d":"2019-07-06","s":"MSCI WMA Balanced (tr)","v":108.6},
      {"d":"2019-07-08","s":"MSCI WMA Balanced (tr)","v":108.42},
      {"d":"2019-07-10","s":"MSCI WMA Balanced (tr)","v":108.3},
      {"d":"2019-07-12","s":"MSCI WMA Balanced (tr)","v":107.94},
      {"d":"2019-07-14","s":"MSCI WMA Balanced (tr)","v":108.1},
      {"d":"2019-07-16","s":"MSCI WMA Balanced (tr)","v":108.8},
      {"d":"2019-07-18","s":"MSCI WMA Balanced (tr)","v":108.2},
      {"d":"2019-07-20","s":"MSCI WMA Balanced (tr)","v":108.1},
      {"d":"2019-07-21","s":"MSCI WMA Balanced (tr)","v":108.2},
      {"d":"2019-07-23","s":"MSCI WMA Balanced (tr)","v":108.8},
      {"d":"2019-07-25","s":"MSCI WMA Balanced (tr)","v":108.4},
      {"d":"2019-07-26","s":"MSCI WMA Balanced (tr)","v":109.2},
      {"d":"2019-07-27","s":"MSCI WMA Balanced (tr)","v":109.3},
      {"d":"2019-07-29","s":"MSCI WMA Balanced (tr)","v":110.15},
      {"d":"2019-07-30","s":"MSCI WMA Balanced (tr)","v":109.96},
      {"d":"2019-07-31","s":"MSCI WMA Balanced (tr)","v":109.2},
      {"d":"2019-08-01","s":"MSCI WMA Balanced (tr)","v":109.3}
    ],
    "notes": [
      {"d":"2018-06-30","v":91.2,"label":"launch date: 25th January 2018 all figures rebased to 100"}
    ]
  },
  "layer": [
    {
      "data": {"name": "series"},
      "mark": {"type": "line", "strokeWidth": 4.5, "strokeJoin": "round", "strokeCap": "round"},
      "encoding": {
        "x": {
          "field": "d", "type": "temporal",
          "scale": {"type": "utc", "domain": [{"year": 2018, "month": 1, "date": 25, "utc": true}, {"year": 2019, "month": 8, "date": 2, "utc": true}]},
          "axis": {"format": "%b %y", "tickCount": {"interval": "month", "step": 1}, "labelOverlap": false, "labelFlush": false, "labelFontSize": 20, "labelPadding": 12,
                   "title": "Past performance of an investment is no guarantee for its future performance.",
                   "titleFont": "Lato", "titleFontSize": 22.5, "titleFontWeight": "normal", "titleColor": "#111111",
                   "titleAnchor": "start", "titleAlign": "left", "titleX": 74, "titleY": 71, "titleBaseline": "alphabetic"}
        },
        "y": {
          "field": "v", "type": "quantitative",
          "scale": {"domain": [90, 115], "nice": false, "zero": false},
          "axis": {"values": [90, 95, 100, 105, 110, 115], "title": null, "labelPadding": 14}
        },
        "color": {
          "field": "s", "type": "nominal",
          "scale": {"domain": ["Blackwood model 6", "MSCI WMA Balanced (tr)"], "range": ["#B5823A", "#333333"]},
          "legend": {"title": null, "orient": "none", "legendX": 33, "legendY": 15, "padding": 0,
                     "symbolType": "M-2.5,0H2.5", "symbolSize": 340, "symbolStrokeWidth": 4.5,
                     "labelFont": "Lato", "labelFontSize": 20, "labelColor": "#333333", "labelOffset": 12, "labelLimit": 0, "rowPadding": 13}
        }
      }
    },
    {
      "data": {"name": "notes"},
      "mark": {"type": "text", "font": "Lato", "fontSize": 18, "color": "#333333", "align": "center", "baseline": "middle"},
      "encoding": {
        "x": {"field": "d", "type": "temporal"},
        "y": {"field": "v", "type": "quantitative"},
        "text": {"field": "label"}
      }
    }
  ]
}
